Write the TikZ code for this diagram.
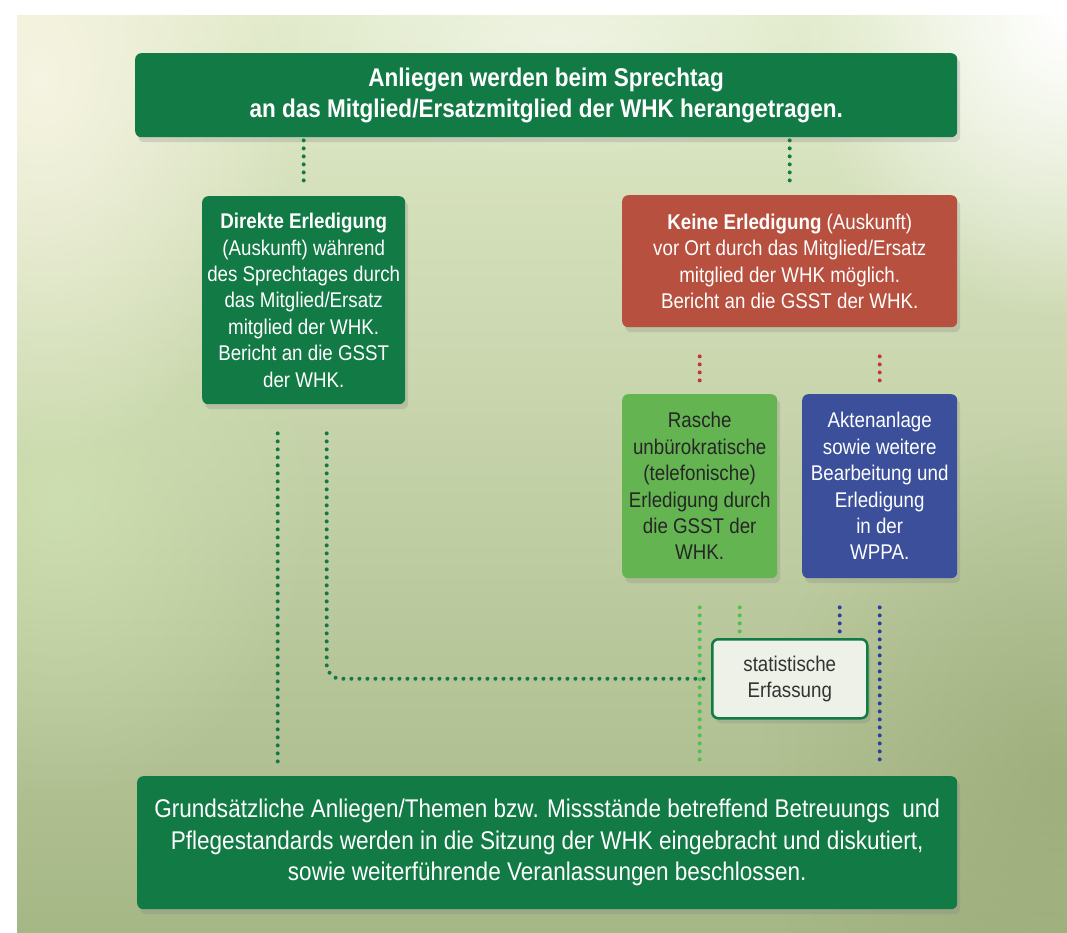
\documentclass[tikz,border=0pt]{standalone}
\usepackage{fontspec}
\setmainfont{Liberation Sans}[FakeStretch=0.88]
\usetikzlibrary{shadows,fadings,calc}

\definecolor{dunkelgruen}{HTML}{127A45}
\definecolor{rot}{HTML}{B8503F}
\definecolor{hellgruen}{HTML}{64B551}
\definecolor{blau}{HTML}{3B4F9B}
\definecolor{hellgrau}{HTML}{EEF1E8}
\definecolor{punktrot}{HTML}{C8333A}
\definecolor{punkthell}{HTML}{4FC04F}
\definecolor{punktblau}{HTML}{2B3E9E}
\definecolor{bgoben}{HTML}{E0EAC8}
\definecolor{bgunten}{HTML}{A6B786}
\definecolor{bgcreme}{HTML}{F6F4E2}
\definecolor{bgdunkel}{HTML}{94A571}
\definecolor{bglinks}{HTML}{D2E4B4}

\tikzfading[name=schein, inner color=transparent!0, outer color=transparent!100]

\tikzset{
  kasten/.style={rounded corners=6pt, align=center, inner sep=0pt, anchor=north west,
    drop shadow={opacity=0.25,shadow xshift=3pt,shadow yshift=-5pt}},
  gross/.style={font=\fontsize{25.6pt}{31.5pt}\selectfont},
  klein/.style={font=\fontsize{21.3pt}{26.4pt}\selectfont},
  punkte/.style={line width=4pt, line cap=round, dash pattern=on 0pt off 8pt},
}

\begin{document}
\begin{tikzpicture}[x=1pt,y=-1pt]
\useasboundingbox (0,0) rectangle (1067,933);
% hintergrund
\fill[white] (0,0) rectangle (1067,933);
\begin{scope}
\clip (17,16) rectangle (1067,933);
\shade[top color=bgoben, bottom color=bgunten] (17,16) rectangle (1067,933);
\fill[bglinks, path fading=schein, opacity=0.7] (60,500) ellipse (260 and 300);
\fill[bgdunkel, path fading=schein, opacity=0.6] (1060,780) ellipse (300 and 350);
\fill[bgcreme, path fading=schein] (40,80) ellipse (260 and 380);
\fill[white, path fading=schein] (1060,20) ellipse (260 and 300);
\fill[white, path fading=schein, opacity=0.5] (560,40) ellipse (320 and 120);
\end{scope}

% kaesten
\node[kasten, gross, fill=dunkelgruen, text=white, minimum width=822pt, minimum height=84pt]
  (titel) at (135,53) {\bfseries Anliegen werden beim Sprechtag\\
  \bfseries an das Mitglied/Ersatzmitglied der WHK herangetragen.};

\node[kasten, klein, fill=dunkelgruen, text=white, minimum width=203pt, minimum height=208pt]
  (direkt) at (202,196) {\textbf{Direkte Erledigung}\\ (Auskunft) während\\ des Sprechtages durch\\
  das Mitglied/Ersatz\\ mitglied der WHK.\\ Bericht an die GSST\\ der WHK.};

\node[kasten, klein, fill=rot, text=white, minimum width=335pt, minimum height=132pt]
  (keine) at (622,195) {\textbf{Keine Erledigung} (Auskunft)\\ vor Ort durch das Mitglied/Ersatz\\
  mitglied der WHK möglich.\\ Bericht an die GSST der WHK.};

\node[kasten, klein, fill=hellgruen, text=black!85, minimum width=155pt, minimum height=184pt]
  (rasche) at (622,394) {Rasche\\ unbürokratische\\ (telefonische)\\ Erledigung durch\\ die GSST der\\ WHK.};

\node[kasten, klein, fill=blau, text=white, minimum width=155pt, minimum height=184pt]
  (akten) at (802,394) {Aktenanlage\\ sowie weitere\\ Bearbeitung und\\ Erledigung\\ in der\\ WPPA.};

\node[kasten, klein, fill=hellgrau, draw=dunkelgruen, line width=2.5pt, text=black!80,
  minimum width=155pt, minimum height=79pt]
  (stat) at (711,638) {statistische\\ Erfassung};

\node[kasten, gross, fill=dunkelgruen, text=white, minimum width=820pt, minimum height=133pt]
  (grund) at (137,776) {Grundsätzliche Anliegen/Themen bzw. Missstände betreffend Betreuungs~~und\\
  Pflegestandards werden in die Sitzung der WHK eingebracht und diskutiert,\\
  sowie weiterführende Veranlassungen beschlossen.};

% punktlinien
\draw[punkte, dunkelgruen, shorten <=3pt, shorten >=13pt] (titel.south -| direkt.north) -- (direkt.north);
\draw[punkte, dunkelgruen, shorten <=3pt, shorten >=13pt] (titel.south -| keine.north) -- (keine.north);
\draw[punkte, punktrot, shorten <=29pt, shorten >=13pt] (keine.south -| rasche.north) -- (rasche.north);
\draw[punkte, punktrot, shorten <=29pt, shorten >=13pt] (keine.south -| akten.north) -- (akten.north);

\draw[punkte, dunkelgruen, shorten <=29pt, shorten >=11pt]
  ([xshift=-26pt]direkt.south) -- ([xshift=-26pt]direkt.south |- grund.north);
\draw[punkte, dunkelgruen, rounded corners=14pt, shorten <=29pt, shorten >=4pt]
  ([xshift=23pt]direkt.south) |- (stat.west);

\draw[punkte, punkthell, shorten <=29pt, shorten >=11pt] (rasche.south) -- (rasche.south |- grund.north);
\draw[punkte, punkthell, shorten <=29pt, shorten >=6pt]
  ([xshift=40pt]rasche.south) -- ([xshift=40pt]rasche.south |- stat.north);
\draw[punkte, punktblau, shorten <=29pt, shorten >=6pt]
  ([xshift=-40pt]akten.south) -- ([xshift=-40pt]akten.south |- stat.north);
\draw[punkte, punktblau, shorten <=29pt, shorten >=11pt] (akten.south) -- (akten.south |- grund.north);
\end{tikzpicture}
\end{document}
